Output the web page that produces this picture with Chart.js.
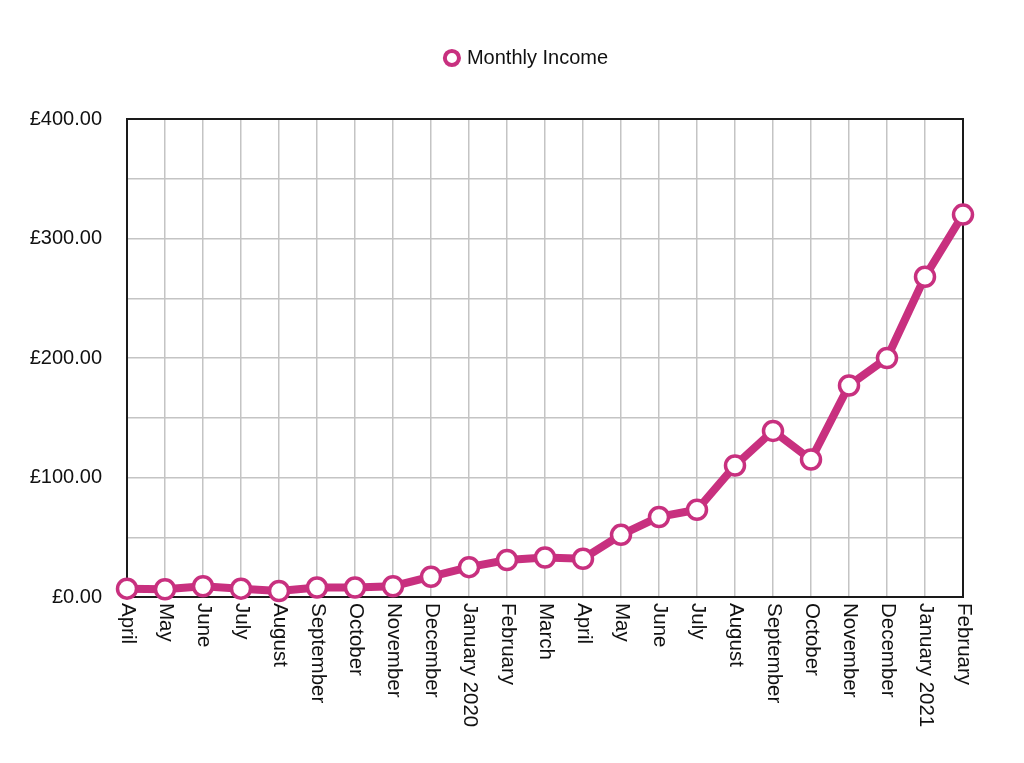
<!DOCTYPE html>
<html>
<head>
<meta charset="utf-8">
<script src="https://cdn.jsdelivr.net/npm/chart.js@4"></script>
<style>
html,body{margin:0;padding:0;background:#fff;}
#wrap{width:1024px;height:763px;}
</style>
</head>
<body>
<div id="wrap"><canvas id="c" width="1024" height="763"></canvas></div>
<script>
const categories = ["April","May","June","July","August","September","October","November","December","January 2020","February","March","April","May","June","July","August","September","October","November","December","January 2021","February"];
const income = [7, 6.5, 9, 7, 5, 8, 8, 9, 17, 25, 31, 33, 32, 52, 67, 73, 110, 139, 115, 177, 200, 268, 320];
const yTicks = [0, 100, 200, 300, 400];

const FONT = "'Liberation Sans', Arial, Helvetica, sans-serif";
const MAG = '#C8307F';

const boxPlugin = {
  id: 'box',
  afterLayout(chart) {
    if (chart.legend) { chart.legend.left += 46; chart.legend.right += 46; }
  },
  beforeDatasetsDraw(chart) {
    const a = chart.chartArea, ctx = chart.ctx;
    ctx.save();
    ctx.strokeStyle = '#1a1a1a';
    ctx.lineWidth = 2;
    ctx.strokeRect(a.left, a.top, a.right - a.left, a.bottom - a.top);
    ctx.restore();
  }
};

const xLabelPlugin = {
  id: 'xlabels',
  afterDraw(chart) {
    const sc = chart.scales.x, ctx = chart.ctx;
    ctx.save();
    ctx.font = "20.5px " + FONT;
    ctx.fillStyle = '#111';
    ctx.textAlign = 'left';
    ctx.textBaseline = 'middle';
    sc.ticks.forEach((t, i) => {
      const x = sc.getPixelForTick(i);
      ctx.save();
      ctx.translate(x + 1, sc.top + 6);
      ctx.rotate(Math.PI / 2);
      ctx.fillText(categories[i], 0, 0);
      ctx.restore();
    });
    ctx.restore();
  }
};

new Chart(document.getElementById('c'), {
  type: 'line',
  data: {
    labels: categories,
    datasets: [{
      label: 'Monthly Income',
      data: income,
      borderColor: MAG,
      borderWidth: 8,
      backgroundColor: '#fff',
      pointBackgroundColor: '#fff',
      pointBorderColor: MAG,
      pointBorderWidth: 3.5,
      pointRadius: 9.5,
      pointHoverRadius: 9.5,
      clip: false,
      tension: 0
    }]
  },
  options: {
    responsive: false,
    animation: false,
    devicePixelRatio: 1,
    layout: { padding: { left: 0, right: 61, top: 14, bottom: 0 } },
    plugins: {
      legend: {
        position: 'top',
        labels: {
          usePointStyle: true,
          boxHeight: 10,
          boxWidth: 10,
          padding: 34,
          color: '#111',
          font: { size: 20, family: FONT },
          generateLabels(chart) {
            const items = Chart.defaults.plugins.legend.labels.generateLabels(chart);
            items.forEach(it => { it.lineWidth = 4; });
            return items;
          }
        }
      },
      subtitle: {
        display: true,
        text: '',
        weight: 500,
        position: 'top',
        font: { size: 10 },
        padding: { top: 0, bottom: 29 }
      },
      tooltip: { enabled: false }
    },
    scales: {
      x: {
        offset: false,
        grid: { color: '#c4c4c4', lineWidth: 1.5, drawTicks: false },
        border: { display: false },
        ticks: { color: 'transparent', maxRotation: 90, minRotation: 90, autoSkip: false, font: { size: 16, family: FONT } },
        afterFit(s) { s.height = 763 - 597; }
      },
      y: {
        min: 0, max: 400,
        grid: { color: '#c4c4c4', lineWidth: 1.5, drawTicks: false },
        border: { display: false },
        ticks: {
          stepSize: 50,
          padding: 25,
          color: '#111',
          font: { size: 20, family: FONT },
          callback: v => yTicks.includes(v) ? '£' + v.toFixed(2) : ''
        },
        afterFit(s) { s.width = 127; }
      }
    }
  },
  plugins: [boxPlugin, xLabelPlugin]
});
</script>
</body>
</html>
